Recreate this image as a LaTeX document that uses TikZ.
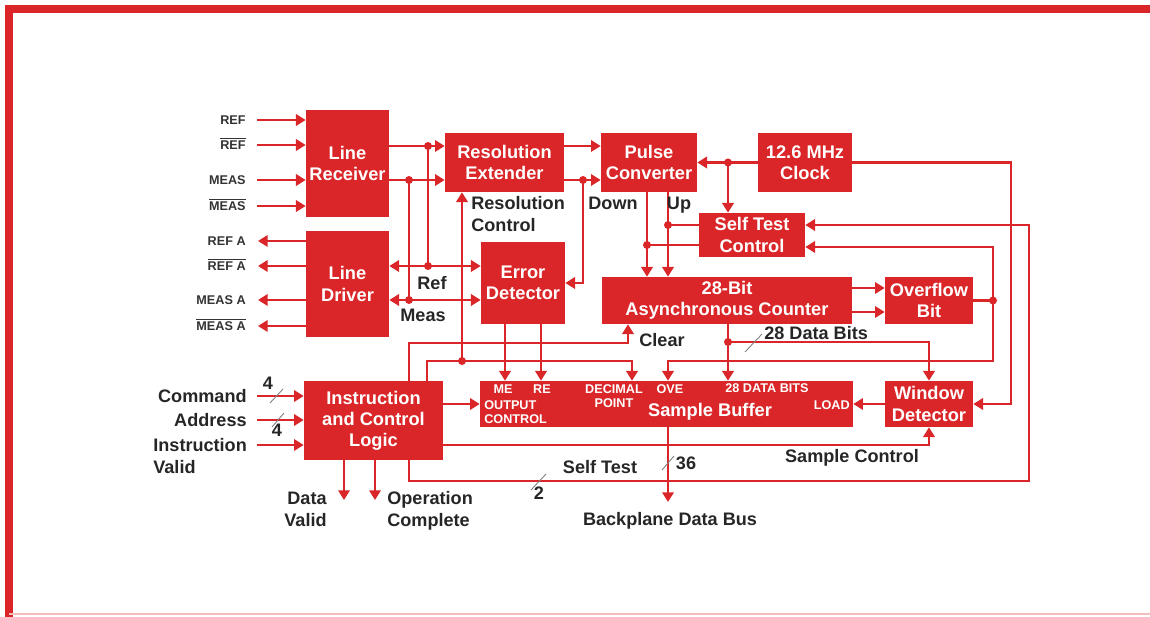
\documentclass[tikz,border=0pt]{standalone}
\usepackage{fontspec}
\setmainfont{Liberation Sans}
\usetikzlibrary{arrows.meta,positioning}
\definecolor{hpred}{RGB}{218,38,40}

\begin{document}
\begin{tikzpicture}[x=0.02cm, y=-0.02cm,
    blk/.style={fill=hpred, text=white, inner sep=0pt, align=center,
                font=\fontsize{10.4}{12}\selectfont\bfseries},
    lbl/.style={font=\fontsize{10.3}{12.5}\selectfont\bfseries, text=black!85,
                inner sep=0pt, text height=7.4pt, text depth=0pt},
    lbltwo/.style={font=\fontsize{10.3}{12.5}\selectfont\bfseries, text=black!85, inner sep=0pt},
    sig/.style={font=\fontsize{7.2}{8}\selectfont\bfseries, text=black!80,
                inner sep=0pt, text height=5.2pt, text depth=0pt},
    sbt/.style={font=\fontsize{7.2}{8}\selectfont\bfseries, text=white,
                inner sep=0pt, text height=5.2pt, text depth=0pt},
    wire/.style={hpred, line width=1.2pt},
    arr/.style={wire, -{Triangle[length=5.5pt,width=6.5pt]}},
    darr/.style={wire, {Triangle[length=5.5pt,width=6.5pt]}-{Triangle[length=5.5pt,width=6.5pt]}},
    buswidth/.style={gray, line width=0.5pt},
]
\useasboundingbox (0,0) rectangle (1150,617);

% frame
\draw[hpred, line width=4pt] (9,617) -- (9,9) -- (1150,9);
\draw[hpred!30, line width=0.6pt] (9,614) -- (1150,614);

% blocks
\node[blk, minimum width=1.66cm, minimum height=2.14cm] (lr) at (347.5,163.5) {Line\\Receiver};
\node[blk, minimum width=1.66cm, minimum height=2.12cm] (ld) at (347.5,284) {Line\\Driver};
\node[blk, minimum width=2.38cm, minimum height=1.18cm] (re) at (504.5,162.5) {Resolution\\Extender};
\node[blk, minimum width=1.92cm, minimum height=1.18cm] (pc) at (649,162.5) {Pulse\\Converter};
\node[blk, minimum width=1.88cm, minimum height=1.18cm] (clk) at (805,162.5) {12.6 MHz\\Clock};
\node[blk, minimum width=2.12cm, minimum height=0.88cm] (stc) at (752,235) {Self Test\\Control};
\node[blk, minimum width=1.68cm, minimum height=1.64cm] (ed) at (523,283) {Error\\Detector};
\node[blk, minimum width=5.00cm, minimum height=0.94cm] (ctr) at (727,300.5) {28-Bit\\Asynchronous Counter};
\node[blk, minimum width=1.76cm, minimum height=0.94cm] (ov) at (929,300.5) {Overflow\\Bit};
\node[blk, minimum width=2.78cm, minimum height=1.58cm] (icl) at (373.5,420.5) {Instruction\\and Control\\Logic};
\node[blk, minimum width=7.46cm, minimum height=0.92cm] (sb) at (666.5,404) {};
\node[blk, minimum width=1.76cm, minimum height=0.92cm] (wd) at (929,404) {Window\\Detector};

% sample buffer fields
\node[sbt] (sbme) at (503,389) {ME};
\node[sbt] (sbre) at (542,389) {RE};
\node[sbt, anchor=west] (sbout) at (484,405) {OUTPUT};
\node[sbt, anchor=west] (sbctl) at (484,419) {CONTROL};
\node[sbt] (sbdec) at (614,389) {DECIMAL};
\node[sbt] (sbpt) at (614,403) {POINT};
\node[sbt] (sbove) at (670,389) {OVE};
\node[sbt] (sbdata) at (767,388) {28 DATA BITS};
\node[sbt, anchor=east] (sbload) at (850,405) {LOAD};
\node[blk, anchor=center] (sbname) at (710,412) {Sample Buffer};

% junctions
\coordinate (jr1) at (428,146);
\coordinate (jr2) at (428,266);
\coordinate (jm1) at (409,180);
\coordinate (jm2) at (409,300);
\coordinate (jpc) at (583,180);
\coordinate (jck) at (728,162.5);
\coordinate (jup) at (668,225);
\coordinate (jdn) at (647,245);
\coordinate (jov) at (993,300.5);
\coordinate (jdb) at (728,342);
\coordinate (jrc) at (462,361);

% line receiver inputs
\foreach \y/\lab [count=\i] in {120/REF, 145/$\overline{\mbox{REF}}$, 180/MEAS, 206/$\overline{\mbox{MEAS}}$} {
    \coordinate (rin\i) at (257,\y);
    \draw[arr] (rin\i) -- (lr.west |- rin\i);
    \node[sig, anchor=east] (rinl\i) at ([xshift=-0.22cm]rin\i) {\lab};
}

% line driver outputs
\foreach \y/\lab [count=\i] in {241/REF A, 266/$\overline{\mbox{REF A}}$, 300/MEAS A, 326/$\overline{\mbox{MEAS A}}$} {
    \coordinate (dout\i) at (258,\y);
    \draw[arr] (ld.west |- dout\i) -- (dout\i);
    \node[sig, anchor=east] (doutl\i) at ([xshift=-0.24cm]dout\i) {\lab};
}

% receiver to extender, ref/meas taps
\draw[arr] (lr.east |- jr1) -- (re.west |- jr1);
\draw[arr] (lr.east |- jm1) -- (re.west |- jm1);
\draw[wire] (jr1) -- (jr2);
\draw[wire] (jm1) -- (jm2);
\draw[darr] (ld.east |- jr2) -- (ed.west |- jr2);
\draw[darr] (ld.east |- jm2) -- (ed.west |- jm2);
\node[lbl] (refl) at (432,283) {Ref};
\node[lbl] (measl) at (423,315) {Meas};

% extender to pulse converter
\draw[arr] (re.east |- jr1) -- (pc.west |- jr1);
\draw[arr] (re.east |- jpc) -- (pc.west |- jpc);
\draw[arr] (jpc) |- (ed.east);
\draw[arr] (jrc) -- (re.south -| jrc);
\node[lbltwo, anchor=north west, align=left] (rescl) at (471,196.5) {Resolution\\Control};

% clock
\draw[arr] (clk.west) -- (pc.east);
\draw[arr] (jck) -- (stc.north -| jck);
\draw[arr] (clk.east) -- (1011,162.5) |- (wd.east);

% up / down
\draw[wire] (stc.west |- jup) -- (jup);
\draw[wire] (stc.west |- jdn) -- (jdn);
\draw[arr] (pc.south -| jup) -- (ctr.north -| jup);
\draw[arr] (pc.south -| jdn) -- (ctr.north -| jdn);
\node[lbl] (downl) at (613,203) {Down};
\node[lbl] (upl) at (679,203) {Up};

% counter and overflow
\draw[arr] (ctr.east |- 0,288) -- (ov.west |- 0,288);
\draw[arr] (ctr.east |- 0,312) -- (ov.west |- 0,312);
\draw[wire] (ov.east) -- (jov);
\draw[arr] (jov) |- (stc.east |- 0,247);
\draw[arr] (jov) |- (668,361) -- (sb.north -| 668,0);
\draw[arr] (ctr.south -| jdb) -- (sb.north -| jdb);
\draw[arr] (jdb) -| (wd.north);
\draw[buswidth] (745,352) -- (762,334);
\node[lbl, anchor=west] (datal) at (764,333) {28 Data Bits};

% error detector to sample buffer
\draw[arr] (ed.south -| 505,0) -- (sb.north -| 505,0);
\draw[arr] (ed.south -| 541,0) -- (sb.north -| 541,0);

% instruction and control logic
\draw[arr] (icl.north -| 409,0) -- (409,343) -| (ctr.south -| 628,0);
\node[lbl, anchor=west] (clearl) at (639,340) {Clear};
\draw[arr] (icl.north -| 427,0) -- (427,361) -| (sb.north -| 632,0);
\draw[arr] (icl.east |- sb.west) -- (sb.west);
\draw[arr] (icl.east |- 0,445) -| (wd.south);
\node[lbl] (smpl) at (852,456) {Sample Control};
\draw[arr] (icl.south -| 409,0) |- (1029,481) |- (stc.east |- 0,225);
\draw[buswidth] (531,490) -- (546,474);
\node[lbl] (stl) at (600,467) {Self Test};
\node[lbl] (stw) at (539,493) {2};

% sample buffer to backplane
\coordinate (bpd) at (668,502);
\draw[arr] (sb.south -| bpd) -- (bpd);
\draw[buswidth] (662,470) -- (674,456);
\node[lbl] (bw) at (686,463) {36};
\node[lbl] (bpl) at (670,519) {Backplane Data Bus};

% outputs of logic
\coordinate (dv) at (344,500);
\coordinate (oc) at (375,500);
\draw[arr] (icl.south -| dv) -- (dv);
\draw[arr] (icl.south -| oc) -- (oc);
\node[lbltwo, anchor=north east, align=right] (dvl) at (327,491.5) {Data\\Valid};
\node[lbltwo, anchor=north west, align=left] (ocl) at (387,491.5) {Operation\\Complete};

% logic inputs
\coordinate (cin1) at (257,396);
\coordinate (cin2) at (257,420);
\coordinate (cin3) at (257,445);
\foreach \i in {1,2,3} \draw[arr] (cin\i) -- (icl.west |- cin\i);
\node[lbl, anchor=east] (cmdl) at (247,396) {Command};
\node[lbl, anchor=east] (adrl) at (247,420) {Address};
\node[lbltwo, anchor=north west, align=left] (ivl) at (153,438.5) {Instruction\\Valid};
\draw[buswidth] (270,403) -- (283,389);
\draw[buswidth] (272,427) -- (284,413);
\node[lbl] (cw) at (268,383) {4};
\node[lbl] (aw) at (277,430) {4};

% window detector load
\draw[arr] (wd.west) -- (sb.east);

% junction dots
\foreach \j in {jr1,jr2,jm1,jm2,jpc,jck,jup,jdn,jov,jdb,jrc}
    \fill[hpred] (\j) circle (4);
\end{tikzpicture}
\end{document}
